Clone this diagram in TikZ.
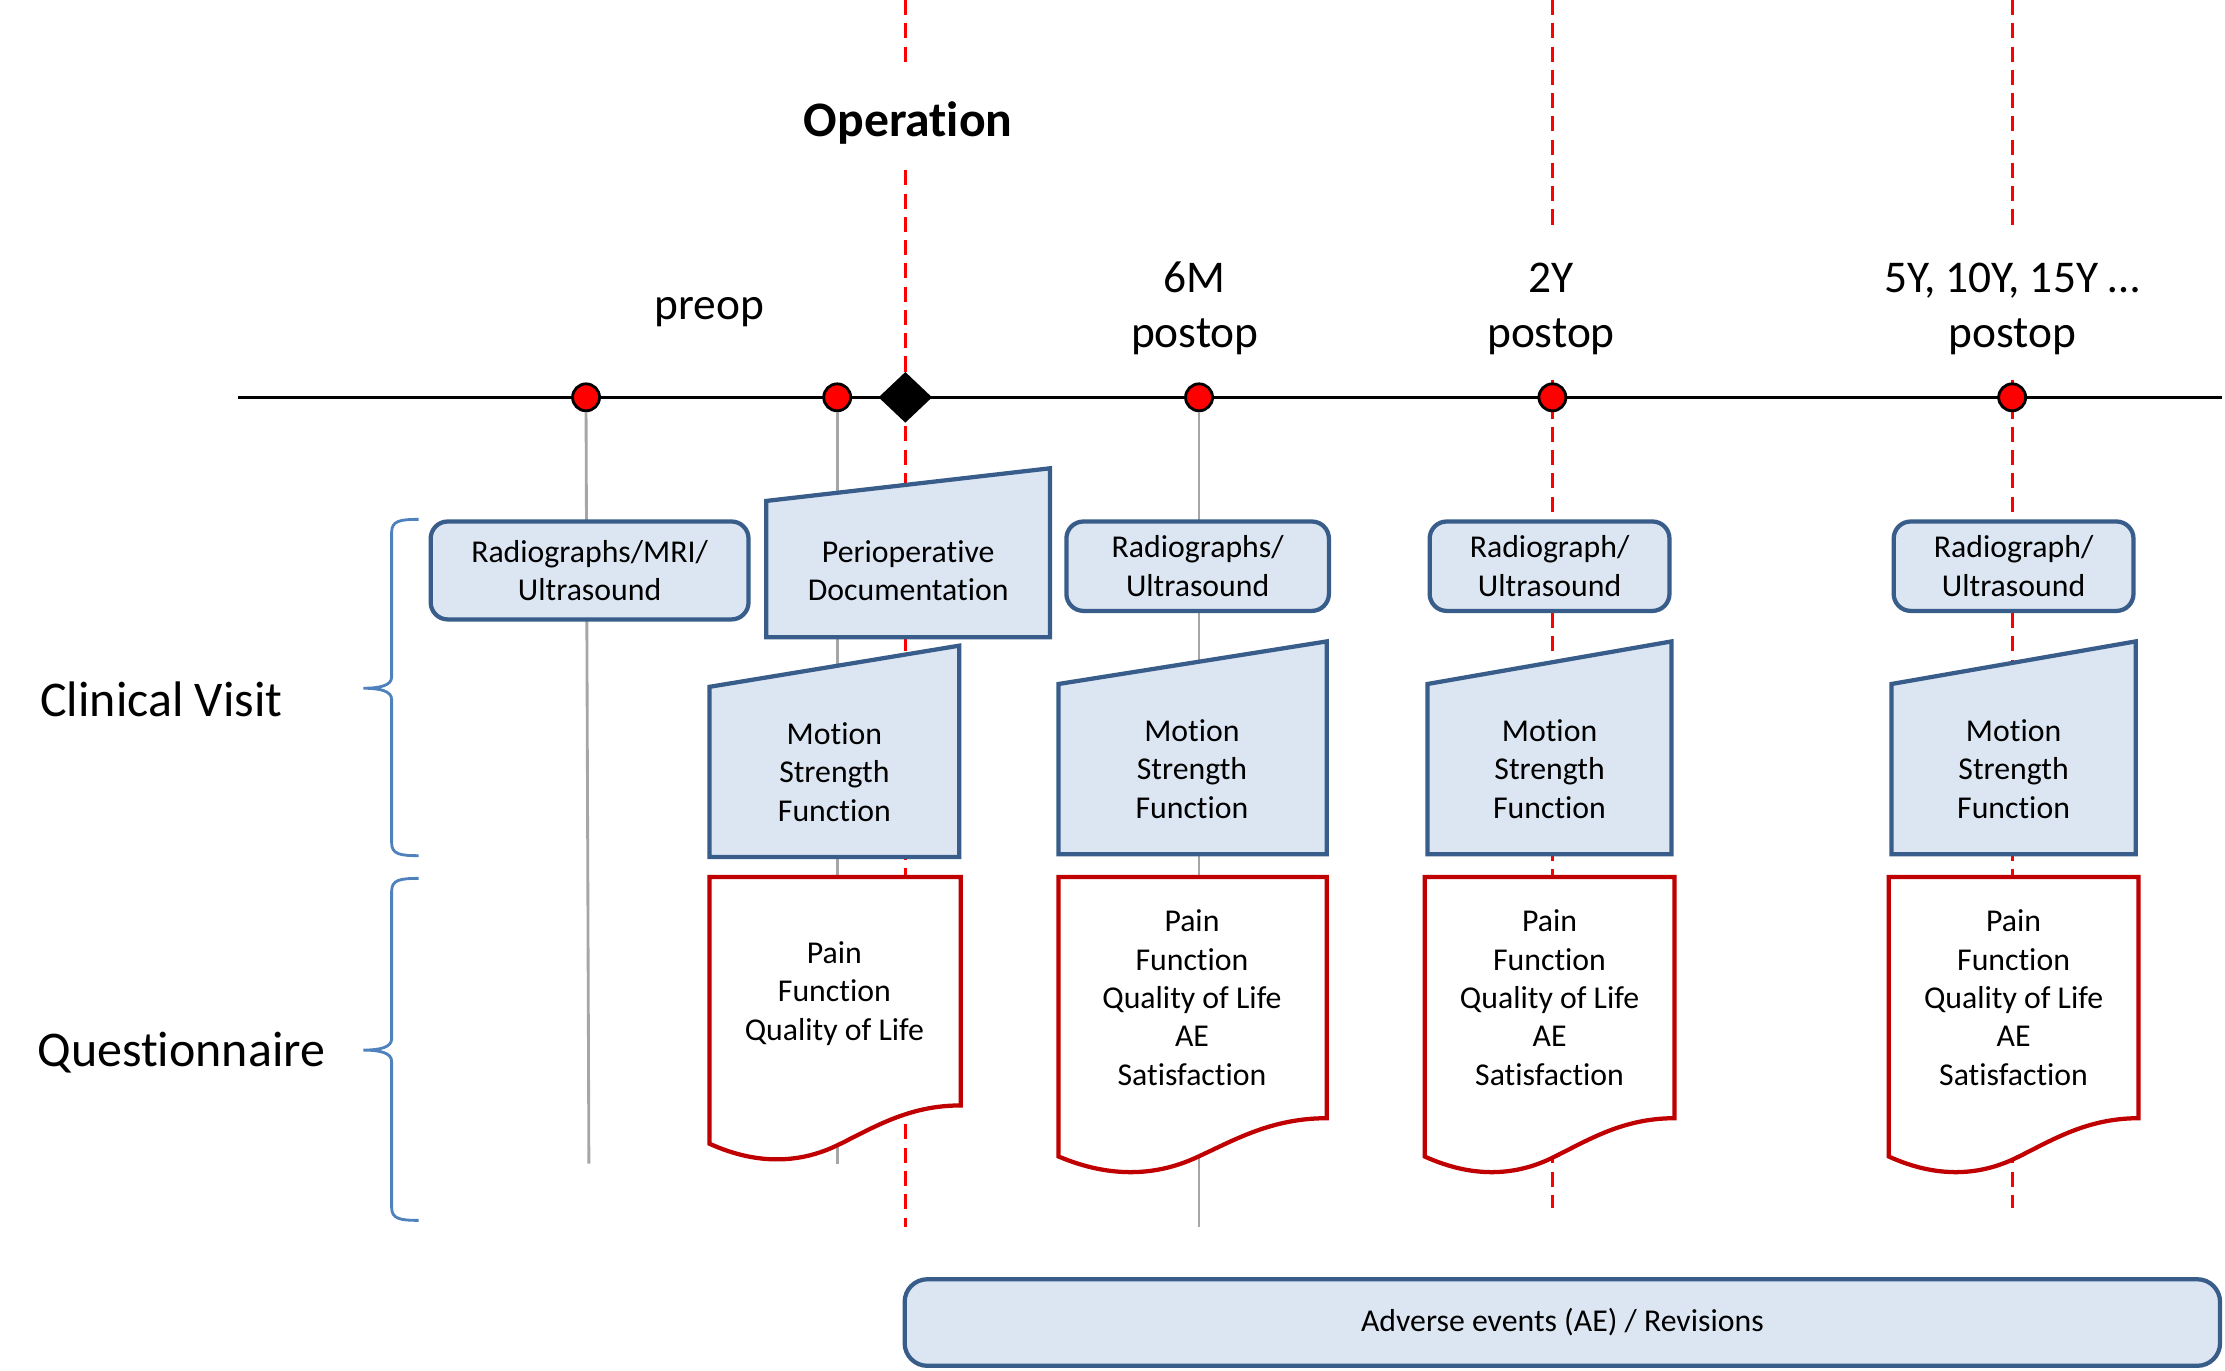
\documentclass[tikz,border=0pt]{standalone}
\usepackage{fontspec}
\setmainfont{Carlito}[Ligatures=NoCommon]
\usetikzlibrary{shapes.geometric}
\definecolor{boxfill}{HTML}{DCE6F2}
\definecolor{boxline}{HTML}{385D8A}
\definecolor{docred}{HTML}{C00000}
\definecolor{bracecol}{HTML}{4F81BD}
\definecolor{guidegrey}{HTML}{A6A6A6}
\definecolor{dotred}{HTML}{FF0000}
\tikzset{
  body/.style={font=\fontsize{11.2}{13.5}\selectfont, align=center, inner sep=0pt},
  tlabel/.style={font=\fontsize{16}{19.5}\selectfont, align=center, inner sep=0pt},
  sidelabel/.style={font=\fontsize{17.6}{21}\selectfont, anchor=west, inner sep=0pt},
  roundbox/.style={draw=boxline, fill=boxfill, line width=1.5pt, rounded corners=6pt},
  manualbox/.style={draw=boxline, fill=boxfill, line width=1.5pt, line join=miter},
  docbox/.style={draw=docred, fill=white, line width=1.5pt, line join=miter},
  reddash/.style={draw=dotred, line width=1.1pt, dash pattern=on 5.3pt off 2.9pt},
  greyline/.style={draw=guidegrey, line width=1pt},
  tdot/.style={circle, fill=dotred, draw=black, line width=1pt, minimum size=9.5pt, inner sep=0pt},
  bracestyle/.style={draw=bracecol, line width=1pt},
}
\newcommand\qdoc[4]{% L R T yr
  \draw[docbox] ({#1},{#3}) -- ({#2},{#3}) -- ({#2},{#4})
    .. controls ({#1+0.79*(#2-#1)},{#4}) and ({#1+0.65*(#2-#1)},{#4+16}) .. ({#1+0.51*(#2-#1)},{#4+28})
    .. controls ({#1+0.37*(#2-#1)},{#4+40}) and ({#1+0.20*(#2-#1)},{#4+43}) .. ({#1},{#4+27}) -- cycle;}
\newcommand\curlybr[3]{% top mid bottom
  \draw[bracestyle] (295,{#1}) .. controls (282,{#1}) and (276,{#1+1}) .. (276,{#1+9})
    -- (276,{#2-8}) .. controls (276,{#2-2}) and (268,{#2}) .. (256,{#2})
    .. controls (268,{#2}) and (276,{#2+2}) .. (276,{#2+8})
    -- (276,{#3-9}) .. controls (276,{#3-1}) and (282,{#3}) .. (295,{#3});}
\begin{document}
\begin{tikzpicture}[x=0.5pt,y=-0.5pt]
\useasboundingbox (0,0) rectangle (1568,966);

% coordinates for guide lines
\coordinate (tlL) at (168,280);
\coordinate (tlR) at (1566,280);
\coordinate (tdA) at (1194,280);
\coordinate (tdB) at (1535,280);
\coordinate (opT) at (638,0);
\coordinate (opA) at (638,44);
\coordinate (opB) at (638,120);
\coordinate (opE) at (638,865);
\coordinate (yT) at (1094,0);
\coordinate (yA) at (1094,162);
\coordinate (yB) at (1094,268);
\coordinate (yE) at (1094,851);
\coordinate (fT) at (1418,0);
\coordinate (fA) at (1418,162);
\coordinate (fB) at (1418,268);
\coordinate (fE) at (1418,851);
\coordinate (g1) at (415,820);
\coordinate (g2) at (590,820);
\coordinate (g3) at (845,865);

% timeline
\draw[line width=0.95pt] (tlL) -- (tlR);
\draw[line width=1.15pt, dash pattern=on 4pt off 1.5pt] (tdA) -- (tdB);

% red dashed guides
\draw[reddash] (opT) -- (opA) (opB) -- (opE);
\draw[reddash] (yT) -- (yA) (yB) -- (yE);
\draw[reddash] (fT) -- (fA) (fB) -- (fE);

% markers
\node[tdot] (d1) at (413,280) {};
\node[tdot] (d2) at (590,280) {};
\node[tdot] (d3) at (845,280) {};
\node[tdot] (d4) at (1094,280) {};
\node[tdot] (d5) at (1418,280) {};
\node[diamond, fill=black, minimum width=19pt, minimum height=18pt, inner sep=0pt] (op) at (638,280) {};

% grey guides
\draw[greyline] (d1.south) -- (g1);
\draw[greyline] (d2.south) -- (g2);
\draw[greyline] (d3.south) -- (g3);

% labels on top
\node[font=\bfseries\fontsize{17.5}{21}\selectfont, inner sep=0pt] (oplabel) at (640,87) {Operation};
\node[tlabel] (preop) at (500,220) {preop};
\node[tlabel] (l6) at (842,217.5) {6M\\postop};
\node[tlabel] (l2) at (1093,217.5) {2Y\\postop};
\node[tlabel] (l5) at (1418,217.5) {5Y, 10Y, 15Y …\\postop};
\node[sidelabel] (cv) at (28,493) {Clinical Visit};
\node[sidelabel] (qn) at (26,742) {Questionnaire};

% braces
\curlybr{366}{485}{603}
\curlybr{619}{740}{860}

% radiograph boxes
\node[roundbox, body, minimum width=112pt, minimum height=34.5pt] (r0) at (415.5,402) {Radiographs/MRI/\\Ultrasound};
\node[roundbox, body, minimum width=92.5pt, minimum height=31.5pt] (r6) at (844,399) {Radiographs/\\Ultrasound};
\node[roundbox, body, minimum width=84.5pt, minimum height=31.5pt] (r2) at (1092,399) {Radiograph/\\Ultrasound};
\node[roundbox, body, minimum width=84.5pt, minimum height=31.5pt] (r5) at (1419,399) {Radiograph/\\Ultrasound};

% perioperative documentation
\draw[manualbox] (540,449) -- (540,353) -- (740,330) -- (740,449) -- cycle;
\node[body] (peri) at (640,402) {Perioperative\\Documentation};

% motion boxes
\draw[manualbox] (500,604) -- (500,484) -- (676,455) -- (676,604) -- cycle;
\node[body] (m0) at (588,544) {Motion\\Strength\\Function};
\draw[manualbox] (746,602) -- (746,482) -- (935,452) -- (935,602) -- cycle;
\node[body] (m6) at (840,542) {Motion\\Strength\\Function};
\draw[manualbox] (1006,602) -- (1006,482) -- (1178,452) -- (1178,602) -- cycle;
\node[body] (m2) at (1092,542) {Motion\\Strength\\Function};
\draw[manualbox] (1333,602) -- (1333,482) -- (1505,452) -- (1505,602) -- cycle;
\node[body] (m5) at (1419,542) {Motion\\Strength\\Function};

% questionnaires
\qdoc{500}{677}{618}{779}
\node[body] (q0) at (588,700) {Pain\\Function\\Quality of Life};
\qdoc{746}{935}{618}{788}
\node[body] (q6) at (840,703) {Pain\\Function\\Quality of Life\\AE\\Satisfaction};
\qdoc{1004}{1180}{618}{788}
\node[body] (q2) at (1092,703) {Pain\\Function\\Quality of Life\\AE\\Satisfaction};
\qdoc{1331}{1507}{618}{788}
\node[body] (q5) at (1419,703) {Pain\\Function\\Quality of Life\\AE\\Satisfaction};

% adverse events bar
\node[roundbox, rounded corners=8pt, body, minimum width=463.5pt, minimum height=30.5pt] (ae) at (1101,932) {Adverse events (AE) / Revisions};
\end{tikzpicture}
\end{document}
